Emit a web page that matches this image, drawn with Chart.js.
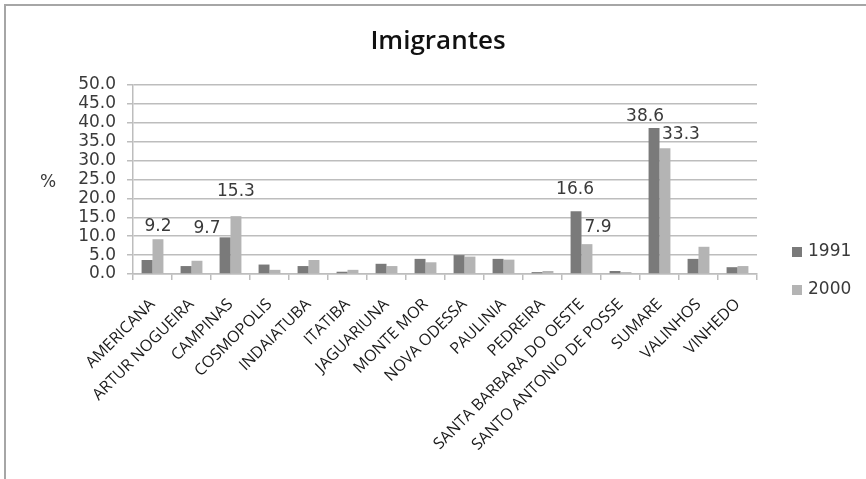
<!DOCTYPE html>
<html>
<head>
<meta charset="utf-8">
<script src="https://cdn.jsdelivr.net/npm/chart.js@4/dist/chart.umd.min.js"></script>
<style>
  body { margin: 0; background: #fff; }
  #wrap { position: relative; width: 866px; height: 479px; }
  #frame { position: absolute; left: 4px; top: 4px; right: -2px; bottom: -2px; border-left: 2px solid #a6a6a6; border-top: 2px solid #a6a6a6; }
  canvas { position: absolute; left: 0; top: 0; }
</style>
</head>
<body>
<div id="wrap">
  <div id="frame"></div>
  <canvas id="chart" width="866" height="479"></canvas>
</div>
<script>
const cities = ['AMERICANA', 'ARTUR NOGUEIRA', 'CAMPINAS', 'COSMOPOLIS', 'INDAIATUBA', 'ITATIBA',
  'JAGUARIUNA', 'MONTE MOR', 'NOVA ODESSA', 'PAULINIA', 'PEDREIRA', 'SANTA BARBARA DO OESTE',
  'SANTO ANTONIO DE POSSE', 'SUMARE', 'VALINHOS', 'VINHEDO'];
const values1991 = [3.7, 2.1, 9.7, 2.5, 2.1, 0.6, 2.7, 4.0, 5.0, 4.0, 0.5, 16.6, 0.8, 38.6, 4.0, 1.8];
const values2000 = [9.2, 3.5, 15.3, 1.1, 3.7, 1.1, 2.1, 3.1, 4.6, 3.8, 0.8, 7.9, 0.5, 33.3, 7.2, 2.1];
const yTicks = [0, 5, 10, 15, 20, 25, 30, 35, 40, 45, 50];
const chartTitle = 'Imigrantes';
const unitLabel = '%';

// which values carry a label, and how far the label sits from the bar top
const labelOffsets = [
  { 2: [-18, -9], 11: [-1, -22], 13: [-9, -12] },
  { 0: [0, -13], 2: [0, -25], 11: [11, -17], 13: [16, -14] }
];

const valueLabels = {
  id: 'valueLabels',
  afterDatasetsDraw(chart) {
    let c = chart.ctx;
    c.save();
    c.font = '17px "DejaVu Sans"';
    c.fillStyle = '#3a3a3a';
    c.textAlign = 'center';
    c.textBaseline = 'middle';
    chart.data.datasets.forEach(function (ds, i) {
      let meta = chart.getDatasetMeta(i);
      for (let j in labelOffsets[i]) {
        let bar = meta.data[j];
        let off = labelOffsets[i][j];
        c.fillText(ds.data[j].toFixed(1), bar.x + off[0], bar.y + off[1]);
      }
    });
    c.restore();
  }
};

// legend on the right, the horizontal "%" and the title centred on the whole picture
const extras = {
  id: 'extras',
  afterDraw(chart) {
    let c = chart.ctx;
    c.save();
    c.font = '17px "DejaVu Sans"';
    c.textBaseline = 'middle';
    chart.data.datasets.forEach(function (ds, i) {
      let y = 252 + i * 38;
      c.fillStyle = ds.backgroundColor;
      c.fillRect(792, y - 5, 10, 10);
      c.fillStyle = '#3a3a3a';
      c.fillText(ds.label, 808, y);
    });
    c.textAlign = 'center';
    c.fillText(unitLabel, 48, 183);
    c.font = '600 26px "Open Sans"';
    c.fillStyle = '#111';
    c.fillText(chartTitle, 438, 42);
    c.restore();
  }
};

var ctx = document.getElementById('chart');

new Chart(ctx, {
  type: 'bar',
  data: {
    labels: cities,
    datasets: [
      { label: '1991', data: values1991, backgroundColor: '#7a7a7a' },
      { label: '2000', data: values2000, backgroundColor: '#b4b4b4' }
    ]
  },
  options: {
    responsive: false,
    animation: false,
    devicePixelRatio: 1,
    layout: { padding: { left: 0, right: 109, top: 85, bottom: 0 } },
    datasets: { bar: { categoryPercentage: 0.56, barPercentage: 1 } },
    plugins: {
      legend: { display: false },
      tooltip: { enabled: false },
      title: { display: false }
    },
    scales: {
      x: {
        afterFit: function (scale) { scale.height = 205; },
        grid: { offset: true, drawOnChartArea: false, tickLength: 6, color: '#bdbdbd', lineWidth: 1.5 },
        border: { color: '#bdbdbd', width: 1.5 },
        ticks: {
          autoSkip: false, minRotation: 45, maxRotation: 45, padding: 15,
          color: '#1a1a1a',
          font: { family: '"Open Sans"', size: 16 }
        }
      },
      y: {
        min: 0,
        max: 50,
        afterFit: function (scale) { scale.width = 133; },
        afterBuildTicks: function (scale) { scale.ticks = yTicks.map(function (v) { return { value: v }; }); },
        grid: { color: '#bdbdbd', lineWidth: 1.5, tickLength: 6 },
        border: { color: '#bdbdbd', width: 1.5 },
        ticks: {
          autoSkip: false,
          padding: 11,
          color: '#3a3a3a',
          font: { family: '"DejaVu Sans"', size: 17 },
          callback: function (v) { return v.toFixed(1); }
        }
      }
    }
  },
  plugins: [valueLabels, extras]
});
</script>
</body>
</html>
